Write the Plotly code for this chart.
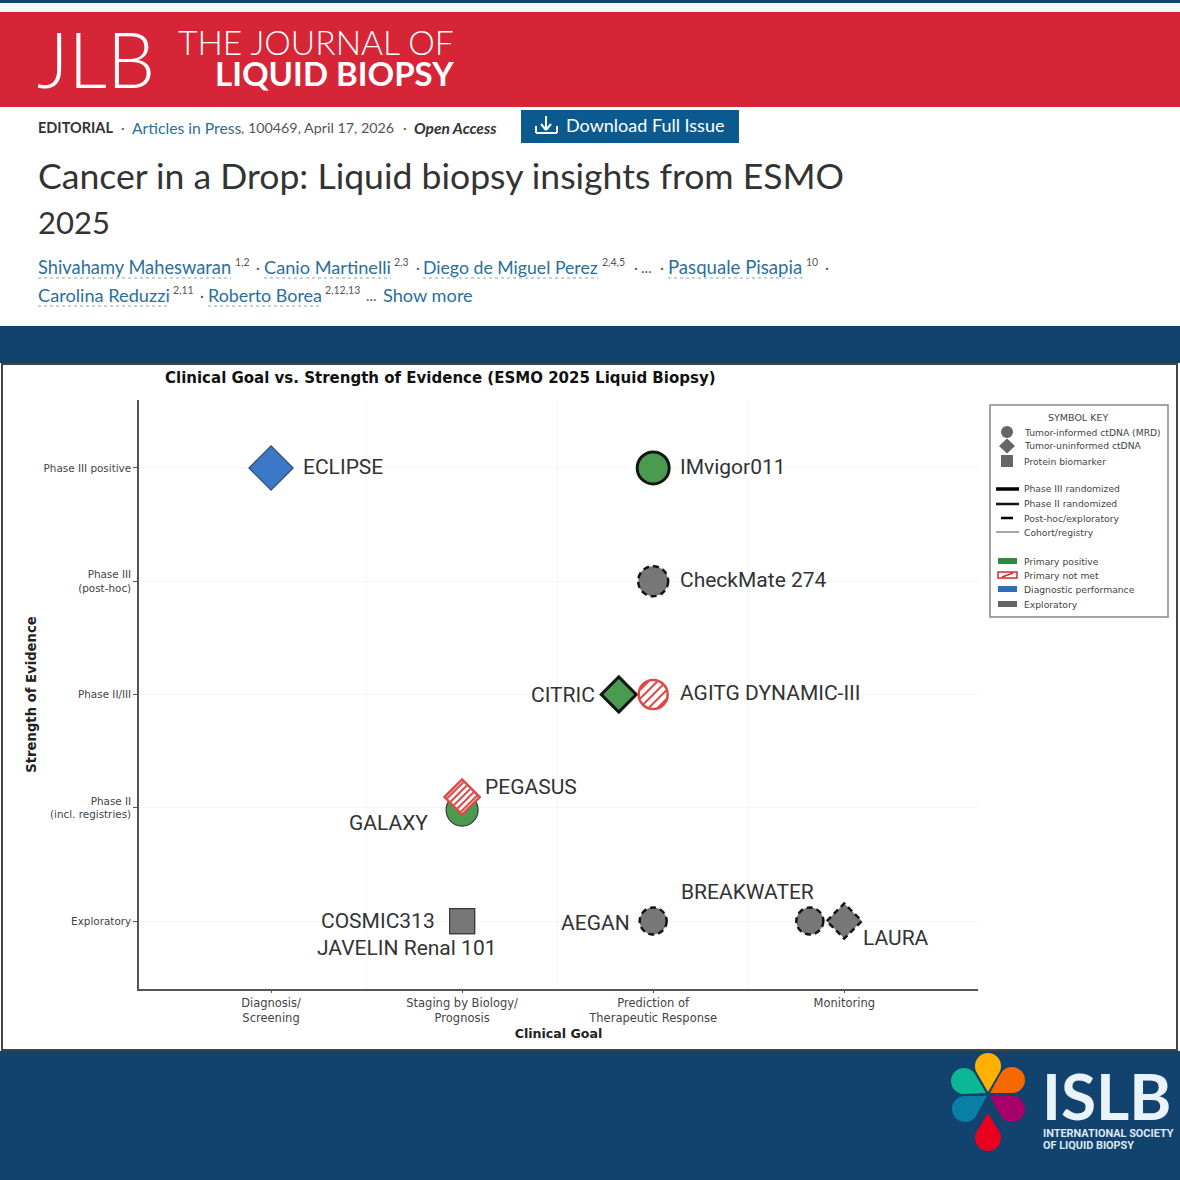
import math

import plotly.graph_objects as go

W, H = 1180, 1180

NAVY = "#12436F"
RED = "#D62537"
LINK = "#2B6E9C"
GREEN = "#4A9A4F"
BLUE = "#3B78C8"
GREY = "#777777"
HATCH = "#DD4A4A"

# ── Data ──────────────────────────────────────────────────────────────
goal_pos = [0, 1, 2, 3]
goal_labels = ["Diagnosis/<br>Screening", "Staging by Biology/<br>Prognosis",
               "Prediction of<br>Therapeutic Response", "Monitoring"]
evidence_pos = [0, 1, 2, 3, 4]
evidence_labels = ["Exploratory", "Phase II<br>(incl. registries)", "Phase II/III",
                   "Phase III<br>(post-hoc)", "Phase III positive"]

studies = ["ECLIPSE", "IMvigor011", "CheckMate 274", "CITRIC", "AGITG DYNAMIC-III",
           "GALAXY", "PEGASUS", "COSMIC313", "JAVELIN Renal 101", "AEGAN",
           "BREAKWATER", "LAURA"]
study_goal = [0, 2, 2, 1.82, 2, 1, 1, 1, 1, 2, 2.82, 3]
study_evidence = [4, 4, 3, 2, 2, 0.98, 1.095, 0, 0, 0, 0, 0]

# style per studie: symbool, vulling, rand, maat
STYLE = {
    "ECLIPSE": ("diamond", BLUE, "thin", 34),
    "IMvigor011": ("circle", GREEN, "solid", 32),
    "CheckMate 274": ("circle", GREY, "dash", 30),
    "CITRIC": ("diamond", GREEN, "solid", 27),
    "AGITG DYNAMIC-III": ("circle", "white", "hatch", 29),
    "GALAXY": ("circle", GREEN, "thin", 32),
    "PEGASUS": ("diamond", "white", "hatch", 27),
    "COSMIC313": ("square", GREY, "thin", 25),
    "JAVELIN Renal 101": ("square", GREY, "thin", 25),
    "AEGAN": ("circle", GREY, "dash", 27),
    "BREAKWATER": ("circle", GREY, "dash", 27),
    "LAURA": ("diamond", GREY, "dash", 27),
}
# label: anker, dx, dy in pixels t.o.v. het punt
LABELS = {
    "ECLIPSE": ("left", 31, 1),
    "IMvigor011": ("left", 26, 1),
    "CheckMate 274": ("left", 26, 1),
    "CITRIC": ("right", -23, 0),
    "AGITG DYNAMIC-III": ("left", 26, 2),
    "GALAXY": ("right", -33, -13),
    "PEGASUS": ("left", 22, 10),
    "COSMIC313": ("right", -26, 0),
    "JAVELIN Renal 101": ("left", -146, -27),
    "AEGAN": ("right", -22, -2),
    "BREAKWATER": ("left", -130, 29),
    "LAURA": ("left", 18, -17),
}

key_symbols = ["Tumor-informed ctDNA (MRD)", "Tumor-uninformed ctDNA", "Protein biomarker"]
key_lines = ["Phase III randomized", "Phase II randomized", "Post-hoc/exploratory", "Cohort/registry"]
key_patches = ["Primary positive", "Primary not met", "Diagnostic performance", "Exploratory"]


def px(x):
    return x / W


def py(y):
    return 1 - y / H


shapes = []
annots = []


def rect(x0, y0, x1, y1, fill, line=None, lw=0):
    shapes.append(dict(type="rect", xref="paper", yref="paper", layer="below",
                       x0=px(x0), x1=px(x1), y0=py(y0), y1=py(y1), fillcolor=fill,
                       line=dict(color=line or fill, width=lw)))


def seg(x0, y0, x1, y1, color, width=1, dash="solid", layer="above"):
    shapes.append(dict(type="line", xref="paper", yref="paper", layer=layer,
                       x0=px(x0), x1=px(x1), y0=py(y0), y1=py(y1),
                       line=dict(color=color, width=width, dash=dash)))


def poly(points, fill, line=None, lw=0):
    path = "M" + " L".join(f"{px(a):.5f},{py(b):.5f}" for a, b in points) + " Z"
    shapes.append(dict(type="path", xref="paper", yref="paper", path=path, fillcolor=fill,
                       line=dict(color=line or fill, width=lw)))


def txt(x, y, text, size, color="#333333", family="Lato", anchor="left", **font):
    annots.append(dict(xref="paper", yref="paper", x=px(x - 1), y=py(y), text=text, showarrow=False,
                       xanchor=anchor, yanchor="middle", borderpad=0,
                       font=dict(size=size, color=color, family=family, **font)))


def petal(tip, center, r, color):
    ang = math.atan2(tip[1] - center[1], tip[0] - center[0])
    d = math.hypot(tip[0] - center[0], tip[1] - center[1])
    a = math.acos(r / d)
    n = 24
    pts = [tip]
    for i in range(n + 1):
        t = ang + a + (2 * math.pi - 2 * a) * i / n
        pts.append((center[0] + r * math.cos(t), center[1] + r * math.sin(t)))
    poly(pts, color)


# pixel-gemaatte omtrek rond een datapunt
def anchored(x, y, r, kind, color, width, dash):
    s = dict(xref="x", yref="y", xsizemode="pixel", ysizemode="pixel", xanchor=x, yanchor=y,
             line=dict(color=color, width=width, dash=dash), fillcolor="rgba(0,0,0,0)")
    if kind == "circle":
        s.update(type="circle", x0=-r, x1=r, y0=-r, y1=r)
    else:
        s.update(type="path", path=f"M{-r},0 L0,{r} L{r},0 L0,{-r} Z")
    shapes.append(s)


def hatch(x, y, r, kind, color, width=2):
    parts = []
    k = math.sqrt(0.5)
    step = r / 2.3 if kind == "circle" else r * k / 2.6
    for i in range(-2, 3):
        d = i * step
        half = math.sqrt(max(r * r - d * d, 0)) if kind == "circle" else r * k
        half -= 1
        cx, cy = d * k, -d * k
        parts.append(f"M{cx - half * k:.2f},{cy - half * k:.2f} L{cx + half * k:.2f},{cy + half * k:.2f}")
    shapes.append(dict(type="path", xref="x", yref="y", xsizemode="pixel", ysizemode="pixel",
                       xanchor=x, yanchor=y, path=" ".join(parts),
                       line=dict(color=color, width=width)))


# ── Pagina-achtergrond ────────────────────────────────────────────────
rect(0, 0, W, 3, NAVY)
rect(0, 3, W, 12, "#F6F7F7")
rect(0, 12, W, 107, RED)
rect(0, 326, W, 363, NAVY)
rect(0, 1051, W, H, NAVY)
rect(2, 364, 1177, 1050, "white", "#444444", 2)

# kop
txt(37, 58, "JLB", 76, "white", weight=300)
txt(178, 42, "THE JOURNAL OF", 33.6, "white", weight=300)
txt(215, 73, "LIQUID BIOPSY", 33, "white", weight="bold")

txt(38, 128, "EDITORIAL", 14.5, "#333333", weight="bold")
txt(121, 128, "·", 14, "#555555")
txt(132, 128, "Articles in Press", 15.7, LINK)
txt(241, 128, ", 100469, April 17, 2026", 14.3, "#555555")
txt(403, 128, "·", 14, "#555555")
txt(414, 128, "Open Access", 15.5, "#333333", weight="bold", style="italic")

rect(521, 110, 739, 143, "#0B5A8F")
txt(566, 125, "Download Full Issue", 18, "white")
seg(546, 116, 546, 129, "white", 2)
seg(541, 124, 546, 130, "white", 2)
seg(551, 124, 546, 130, "white", 2)
seg(536, 126, 536, 133, "white", 2)
seg(536, 133, 557, 133, "white", 2)
seg(557, 126, 557, 133, "white", 2)

txt(38, 176, "Cancer in a Drop: Liquid biopsy insights from ESMO", 35.6, "#333333")
txt(38, 222, "2025", 31, "#333333")

authors = [
    (38, 231, 267, "Shivahamy Maheswaran", 18.3, 235, "1,2"),
    (264, 391, 267, "Canio Martinelli", 18.2, 394, "2,3"),
    (423, 598, 267, "Diego de Miguel Perez", 17.7, 602, "2,4,5"),
    (668, 803, 267, "Pasquale Pisapia", 18.6, 806, "10"),
    (38, 170, 295, "Carolina Reduzzi", 18.2, 173, "2,11"),
    (208, 322, 295, "Roberto Borea", 17.9, 325, "2,12,13"),
]
for x0, x1, yy, name, size, xs, sup in authors:
    txt(x0, yy, name, size, LINK)
    txt(xs, yy - 5, sup, 10.5, "#555555")
    seg(x0, yy + 11, x1, yy + 11, "#7FA8C4", 1, "dot")
for x, yy, s in [(256, 267, "·"), (416, 267, "·"), (634, 267, "·"), (641, 267, "..."), (660, 267, "·"),
                 (825, 267, "·"), (200, 295, "·")]:
    txt(x, yy, s, 15, "#555555")
txt(366, 295, "...", 15, "#555555")
txt(383, 295, "Show more", 18.2, LINK)

# logo
for tip, center, color in [
    ((988, 1092), (988, 1066), "#FFB000"),
    ((990, 1093), (1012, 1080), "#F56A00"),
    ((986, 1093), (964, 1081), "#0CB795"),
    ((987, 1096), (965, 1109), "#0A7FA5"),
    ((990, 1096), (1012, 1109), "#A8006A"),
    ((988, 1113), (988, 1138), "#E8001E"),
]:
    petal(tip, center, 13, color)
txt(1042, 1095, "ISLB", 64, "#EAF2FA", weight="bold")
txt(1043, 1133, "INTERNATIONAL SOCIETY", 10.9, "#DCE8F2", family="Roboto", weight="bold")
txt(1043, 1145, "OF LIQUID BIOPSY", 10.9, "#DCE8F2", family="Roboto", weight="bold")

# ── Symbol key ────────────────────────────────────────────────────────
shapes.append(dict(type="rect", xref="paper", yref="paper", x0=px(990), x1=px(1168), y0=py(405), y1=py(617),
                   fillcolor="white", line=dict(color="#888888", width=1.5)))
txt(1079, 417, "SYMBOL KEY", 9.5, "#444444", family="DejaVu Sans", anchor="center")
for name, yy in zip(key_symbols, [432, 446, 461]):
    txt(1024, yy, name, 9.2, "#444444", family="DejaVu Sans")
for name, yy in zip(key_lines, [489, 504, 518, 532]):
    txt(1024, yy, name, 9.2, "#444444", family="DejaVu Sans")
for name, yy in zip(key_patches, [561, 575, 589, 604]):
    txt(1024, yy, name, 9.2, "#444444", family="DejaVu Sans")

shapes.append(dict(type="circle", xref="paper", yref="paper", x0=px(1001), x1=px(1013), y0=py(438), y1=py(426),
                   fillcolor="#666666", line=dict(width=0)))
poly([(999, 446), (1007, 438.5), (1015, 446), (1007, 453.5)], "#666666")
shapes.append(dict(type="rect", xref="paper", yref="paper", x0=px(1001), x1=px(1013), y0=py(467), y1=py(455),
                   fillcolor="#666666", line=dict(width=0)))
seg(996, 489, 1019, 489, "black", 3.5)
seg(996, 504, 1019, 504, "#111111", 2.5)
seg(1001, 518, 1013, 518, "black", 2.5)
seg(996, 532, 1019, 532, "#888888", 1.5)
for yy, col in [(561, "#2F8A3E"), (589, "#2B6FC0"), (604, "#666666")]:
    shapes.append(dict(type="rect", xref="paper", yref="paper", x0=px(998), x1=px(1017), y0=py(yy + 3), y1=py(yy - 3),
                       fillcolor=col, line=dict(width=0)))
shapes.append(dict(type="rect", xref="paper", yref="paper", x0=px(998), x1=px(1017), y0=py(578), y1=py(572),
                   fillcolor="white", line=dict(color="#D42A2A", width=1.5)))
seg(1002, 577, 1013, 573, "#D42A2A", 1.5)

# ── Grafiek ───────────────────────────────────────────────────────────
fig = go.Figure()

for name, gx, gy in zip(studies, study_goal, study_evidence):
    symbol, fill, edge, size = STYLE[name]
    if edge == "solid":
        line = dict(color="#151515", width=3)
    elif edge == "hatch":
        line = dict(color=HATCH, width=2.5)
    elif edge == "thin":
        line = dict(color="#2F4F6F" if fill == BLUE else "#3A3A3A", width=1.2)
    else:
        line = dict(width=0)
    fig.add_trace(go.Scatter(
        x=[gx], y=[gy],
        mode="markers",
        name=name,
        marker=dict(symbol=symbol, size=size, color=fill, line=line),
        showlegend=False,
        hovertemplate=name + "<extra></extra>",
    ))

    half = size * 1.3 / 2 if symbol == "diamond" else size / 2
    if edge == "dash":
        anchored(gx, gy, half, symbol, "#151515", 2.5, "6px,4px")
    if edge == "hatch":
        hatch(gx, gy, half, symbol, HATCH)

    anchor, dx, dy = LABELS[name]
    annots.append(dict(
        x=gx, y=gy, xref="x", yref="y", text=name, showarrow=False,
        xanchor=anchor, yanchor="middle", xshift=dx, yshift=dy, borderpad=0,
        font=dict(family="Roboto", size=21, color="#333333"),
    ))

fig.update_layout(
    width=W, height=H,
    margin=dict(l=0, r=0, t=0, b=0),
    paper_bgcolor="white",
    plot_bgcolor="rgba(0,0,0,0)",
    title=dict(
        text="<b>Clinical Goal vs. Strength of Evidence (ESMO 2025 Liquid Biopsy)</b>",
        x=px(165), xanchor="left", xref="paper",
        y=py(378), yanchor="middle", yref="container",
        font=dict(family="DejaVu Sans", size=15, color="#111111"),
    ),
    shapes=shapes,
    annotations=annots,
    showlegend=False,
)

fig.update_xaxes(
    domain=[px(139), px(978)],
    range=[-0.691, 3.70],
    tickmode="array", tickvals=goal_pos, ticktext=goal_labels,
    showgrid=False, zeroline=False,
    showline=True, linecolor="#555555", linewidth=1.5,
    ticks="outside", ticklen=2, tickcolor="#555555",
    tickfont=dict(family="DejaVu Sans", size=11.5, color="#444444"),
    minor=dict(tickmode="array", tickvals=[0.5, 1.5, 2.5], showgrid=True, gridcolor="#F6F6F6", ticks=""),
    title=dict(text="<b>Clinical Goal</b>", standoff=6,
               font=dict(family="DejaVu Sans", size=12.6, color="#222222")),
)
fig.update_yaxes(
    domain=[py(989), py(400)],
    range=[-0.60, 4.6],
    tickmode="array", tickvals=evidence_pos, ticktext=evidence_labels,
    showgrid=True, gridcolor="#F6F6F6", zeroline=False,
    showline=True, linecolor="#555555", linewidth=1.5,
    ticks="outside", ticklen=4, tickcolor="#555555",
    tickfont=dict(family="DejaVu Sans", size=10.4, color="#444444"),
    title=dict(text="<b>Strength of Evidence</b>", standoff=4,
               font=dict(family="DejaVu Sans", size=13.2, color="#222222")),
)

fig.write_html("out.html", config={"displayModeBar": False},
               post_script="document.body.style.margin='0';")
